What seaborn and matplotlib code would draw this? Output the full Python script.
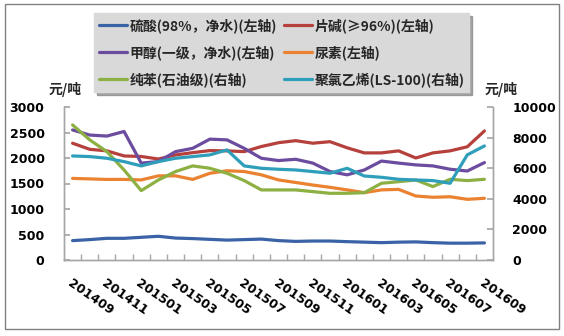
import numpy as np
import pandas as pd
import matplotlib
matplotlib.use("Agg")
import matplotlib.pyplot as plt
import seaborn as sns

months = ["201409", "201410", "201411", "201412", "201501", "201502", "201503", "201504",
          "201505", "201506", "201507", "201508", "201509", "201510", "201511", "201512",
          "201601", "201602", "201603", "201604", "201605", "201606", "201607", "201608",
          "201609"]

# left axis series
sulfuric = [380, 400, 425, 425, 445, 465, 430, 420, 405, 390, 400, 410, 380, 365, 372, 372,
            360, 350, 340, 350, 355, 340, 330, 330, 335]
caustic = [2290, 2170, 2140, 2040, 2030, 1980, 2060, 2105, 2145, 2140, 2125, 2225, 2300, 2340,
           2290, 2320, 2200, 2100, 2100, 2140, 2000, 2100, 2140, 2220, 2530]
methanol = [2550, 2450, 2430, 2520, 1900, 1930, 2125, 2190, 2370, 2355, 2190, 1995, 1950, 1975,
            1900, 1735, 1670, 1765, 1940, 1900, 1865, 1845, 1780, 1745, 1910]
urea = [1600, 1590, 1580, 1580, 1570, 1650, 1650, 1580, 1700, 1750, 1735, 1670, 1570, 1520,
        1470, 1425, 1375, 1320, 1375, 1385, 1255, 1230, 1240, 1190, 1210]
# right axis series
benzene = [8830, 7850, 7085, 5885, 4535, 5230, 5780, 6150, 5995, 5670, 5190, 4580, 4580, 4580,
           4470, 4360, 4360, 4400, 5015, 5120, 5230, 4800, 5275, 5190, 5275]
pvc = [6800, 6760, 6650, 6430, 6150, 6430, 6650, 6760, 6870, 7195, 6150, 5995, 5930, 5885,
       5780, 5670, 5995, 5490, 5405, 5275, 5230, 5190, 5015, 6870, 7455]

left_names = ["硫酸(98%，净水)(左轴)", "片碱(≥96%)(左轴)", "甲醇(一级，净水)(左轴)", "尿素(左轴)"]
right_names = ["纯苯(石油级)(右轴)", "聚氯乙烯(LS-100)(右轴)"]
colors = {
    left_names[0]: "#3A62A6",
    left_names[1]: "#B5403C",
    left_names[2]: "#6C4C9E",
    left_names[3]: "#EA8231",
    right_names[0]: "#8DB043",
    right_names[1]: "#2F9EBA",
}

sns.set_theme(style="white")
plt.rcParams["font.family"] = ["Noto Sans CJK SC", "DejaVu Sans"]

fig = plt.figure(figsize=(5.64, 3.36), dpi=100)
ax = fig.add_axes([64 / 564, 1 - 260 / 336, (493 - 64) / 564, (260 - 107) / 336])
ax2 = ax.twinx()

idx = np.arange(len(months))
left_df = pd.DataFrame({"x": np.tile(idx, 4),
                        "v": sulfuric + caustic + methanol + urea,
                        "s": np.repeat(left_names, len(months))})
right_df = pd.DataFrame({"x": np.tile(idx, 2),
                         "v": benzene + pvc,
                         "s": np.repeat(right_names, len(months))})

lw = 2.3
sns.lineplot(data=left_df, x="x", y="v", hue="s", palette=colors, hue_order=left_names,
             ax=ax, linewidth=lw, legend=False)
sns.lineplot(data=right_df, x="x", y="v", hue="s", palette=colors, hue_order=right_names,
             ax=ax2, linewidth=lw, legend=False)

ax.set_xlim(-0.5, len(months) - 0.5)
ax.set_ylim(0, 3000)
ax2.set_ylim(0, 10000)
ax.set_yticks(range(0, 3001, 500))
ax2.set_yticks(range(0, 10001, 2000))
ax.set_xlabel("")
ax.set_ylabel("")
ax2.set_ylabel("")

axis_col = "#A6A6A6"
for a in (ax, ax2):
    a.spines["top"].set_visible(False)
    for side in ("left", "bottom", "right"):
        a.spines[side].set_color(axis_col)
        a.spines[side].set_linewidth(1.0)
    a.grid(False)
    a.set_facecolor("none")

ax.tick_params(axis="y", direction="in", length=4, color=axis_col, pad=14, left=True)
ax2.tick_params(axis="y", direction="in", length=4, color=axis_col, pad=14, right=True)
for lab in ax.get_yticklabels() + ax2.get_yticklabels():
    lab.set_fontfamily("DejaVu Sans")
    lab.set_fontweight("bold")
    lab.set_fontsize(9)
    lab.set_color("black")

ax.set_xticks(idx[::2])
ax.set_xticklabels(months[::2])
ax.set_xticks(idx[:-1] + 0.5, minor=True)
ax.tick_params(axis="x", which="major", length=0, pad=12)
ax.tick_params(axis="x", which="minor", direction="in", length=4, color=axis_col, bottom=True)
for lab in ax.get_xticklabels():
    lab.set_rotation(-35)
    lab.set_ha("left")
    lab.set_va("top")
    lab.set_rotation_mode("anchor")
    lab.set_fontfamily("DejaVu Sans")
    lab.set_fontweight("bold")
    lab.set_fontsize(9)
    lab.set_color("black")

for xpos in (65, 501):
    fig.text(xpos / 564, 1 - 90 / 336, "元/吨", ha="center", va="center", fontsize=10,
             fontweight="bold", family=["Noto Sans CJK SC", "DejaVu Sans"])

# legend, Excel order laid out column-wise
order = [left_names[0], left_names[2], right_names[0], left_names[1], left_names[3], right_names[1]]
handles = [plt.Line2D([], [], color=colors[n], linewidth=lw) for n in order]
leg = fig.legend(handles, order, loc="upper left", bbox_to_anchor=(94 / 564, 1 - 13 / 336),
                 ncol=2, frameon=True, fancybox=False, shadow={"color": "#808080", "alpha": 0.7},
                 facecolor="#D9D9D9", edgecolor="#D9D9D9", framealpha=1,
                 handlelength=2.05, handletextpad=0.15, columnspacing=0.5, labelspacing=0.88,
                 borderpad=0.35, borderaxespad=0,
                 prop={"family": ["Noto Sans CJK SC", "DejaVu Sans"], "size": 10, "weight": "bold"})

# outer border
border = plt.Rectangle((5 / 564, 1 - 329 / 336), (559 - 5) / 564, (329 - 4) / 336,
                       transform=fig.transFigure, fill=False, edgecolor="#808080", linewidth=1.0)
fig.add_artist(border)

fig.savefig("out.png", dpi=100)
